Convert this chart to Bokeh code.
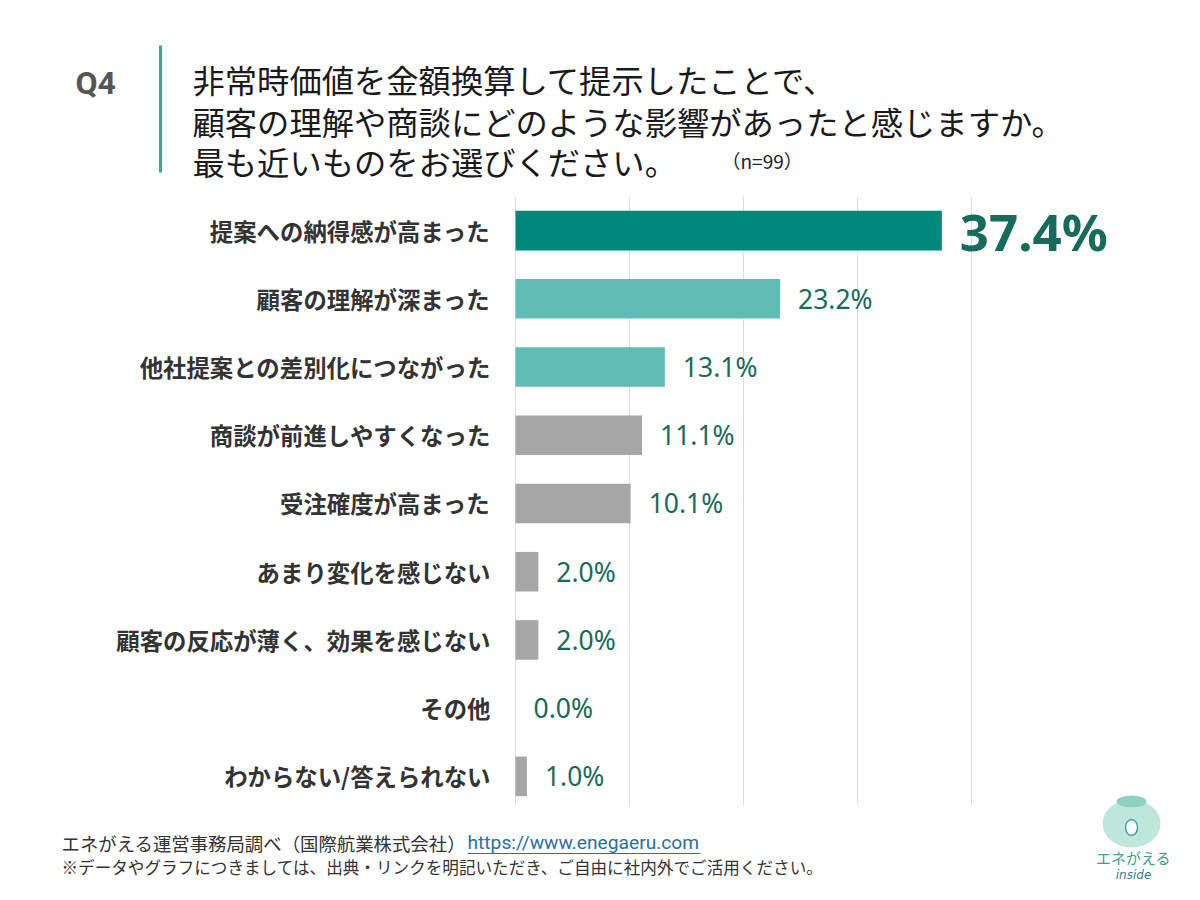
from bokeh.plotting import figure
from bokeh.models import ColumnDataSource, Range1d, Label
from bokeh.core.properties import value
from bokeh.embed import file_html
from bokeh.resources import INLINE

# --- data -----------------------------------------------------------------
categories = [
    "提案への納得感が高まった",
    "顧客の理解が深まった",
    "他社提案との差別化につながった",
    "商談が前進しやすくなった",
    "受注確度が高まった",
    "あまり変化を感じない",
    "顧客の反応が薄く、効果を感じない",
    "その他",
    "わからない/答えられない",
]
percentages = [37.4, 23.2, 13.1, 11.1, 10.1, 2.0, 2.0, 0.0, 1.0]
grid_ticks = [0, 10, 20, 30, 40]

title_lines = [
    "非常時価値を金額換算して提示したことで、",
    "顧客の理解や商談にどのような影響があったと感じますか。",
    "最も近いものをお選びください。",
]
sample_note = "（n=99）"
source_note = "エネがえる運営事務局調べ（国際航業株式会社）"
source_url = "https://www.enegaeru.com"
usage_note = "※データやグラフにつきましては、出典・リンクを明記いただき、ご自由に社内外でご活用ください。"

# --- styling --------------------------------------------------------------
JP = "Noto Sans CJK JP"
NUM = "Noto Sans"
TEAL_DARK = "#00887A"
TEAL_LIGHT = "#5EBCB4"
GRAY = "#A6A6A6"
LABEL_GREEN = "#176B5B"

bar_colors = [TEAL_DARK, TEAL_LIGHT, TEAL_LIGHT] + [GRAY] * 6
label_sizes = ["51px"] + ["26.5px"] * 8
label_styles = ["bold"] + ["normal"] * 8

W, H = 1200, 900
# bar area on the canvas (pixels): zero line, px per percent, first row, row pitch
ZERO_PX, PX_PER_UNIT = 515, 11.4
ROW0_TOP, ROW_PITCH = 196, 68.222
n = len(categories)


# helpers converting canvas pixels to data coordinates
def dx(px):
    return (px - ZERO_PX) / PX_PER_UNIT


def dy(py):
    return -0.5 + (py - ROW0_TOP) / ROW_PITCH


p = figure(width=W, height=H, output_backend="svg", toolbar_location=None,
           x_range=Range1d(dx(0), dx(W)), y_range=Range1d(dy(H), dy(0)),
           min_border=0, background_fill_color="white",
           border_fill_color="white", outline_line_color=None)
p.xaxis.visible = False
p.yaxis.visible = False
p.xgrid.visible = False
p.ygrid.visible = False

idx = list(range(n))

# vertical gridlines behind the bars
p.segment(x0=grid_ticks, x1=grid_ticks, y0=-0.5, y1=n - 0.58,
          line_color="#DEDEDE", line_width=1)

src = ColumnDataSource(dict(
    y=idx, pct=percentages, color=bar_colors, cat=categories,
    txt=[f"{v:.1f}%" for v in percentages],
    size=label_sizes, style=label_styles,
))

p.hbar(y="y", left=0, right="pct", height=0.58, fill_color="color",
       line_color=None, source=src)

# value labels
p.text(x="pct", y="y", text="txt", source=src, x_offset=18,
       text_font=value(NUM), text_font_size="size", text_font_style="style",
       text_color=LABEL_GREEN, text_baseline="middle", text_align="left")

# category labels
p.text(x=0, y="y", text="cat", source=src, x_offset=-25,
       text_font=value(JP), text_font_size="23.4px", text_font_style="bold",
       text_color="#333333", text_baseline="middle", text_align="right")

# --- header ---------------------------------------------------------------
p.add_layout(Label(x=dx(75), y=dy(82), text="Q4", text_font="Roboto",
                   text_font_size="32px", text_font_style="bold",
                   text_color="#555555", text_baseline="middle"))
p.segment(x0=dx(160), x1=dx(160), y0=dy(45), y1=dy(172),
          line_color="#3DAA8F", line_width=3)
for line, yc in zip(title_lines, [78, 120, 160]):
    p.add_layout(Label(x=dx(192), y=dy(yc), text=line, text_font=JP,
                       text_font_size="32.3px", text_color="#1A1A1A",
                       text_baseline="middle"))
p.add_layout(Label(x=dx(721), y=dy(160), text=sample_note, text_font=JP,
                   text_font_size="19px", text_color="#222222",
                   text_baseline="middle"))

# --- footer ---------------------------------------------------------------
p.add_layout(Label(x=dx(61), y=dy(842), text=source_note, text_font=JP,
                   text_font_size="18.4px", text_color="#333333",
                   text_baseline="middle"))
p.add_layout(Label(x=dx(467), y=dy(842), text=source_url, text_font="Roboto",
                   text_font_size="19.2px", text_color="#2E6E9E",
                   text_baseline="middle"))
p.segment(x0=dx(467), x1=dx(700), y0=dy(853), y1=dy(853),
          line_color="#2E6E9E", line_width=1.2)
p.add_layout(Label(x=dx(61), y=dy(866), text=usage_note, text_font=JP,
                   text_font_size="16.6px", text_color="#333333",
                   text_baseline="middle"))

# --- logo -----------------------------------------------------------------
p.ellipse(x=dx(1131), y=dy(823), width=58 / PX_PER_UNIT,
          height=48 / ROW_PITCH, fill_color="#BFE6DC", line_color=None)
p.ellipse(x=dx(1131), y=dy(801), width=30 / PX_PER_UNIT,
          height=12 / ROW_PITCH, fill_color="#8FD0C0", line_color=None)
p.ellipse(x=dx(1131), y=dy(827), width=12 / PX_PER_UNIT,
          height=16 / ROW_PITCH, fill_color="white", line_color="#3AA38F",
          line_width=1.5)
p.add_layout(Label(x=dx(1133), y=dy(857), text="エネがえる", text_font=JP,
                   text_font_size="15px", text_color="#3AA38F",
                   text_align="center", text_baseline="middle"))
p.add_layout(Label(x=dx(1133), y=dy(874), text="inside", text_font="DejaVu Sans",
                   text_font_size="12px", text_font_style="italic",
                   text_color="#2F7F8F", text_align="center",
                   text_baseline="middle"))

open("out.html", "w").write(file_html(p, INLINE))
